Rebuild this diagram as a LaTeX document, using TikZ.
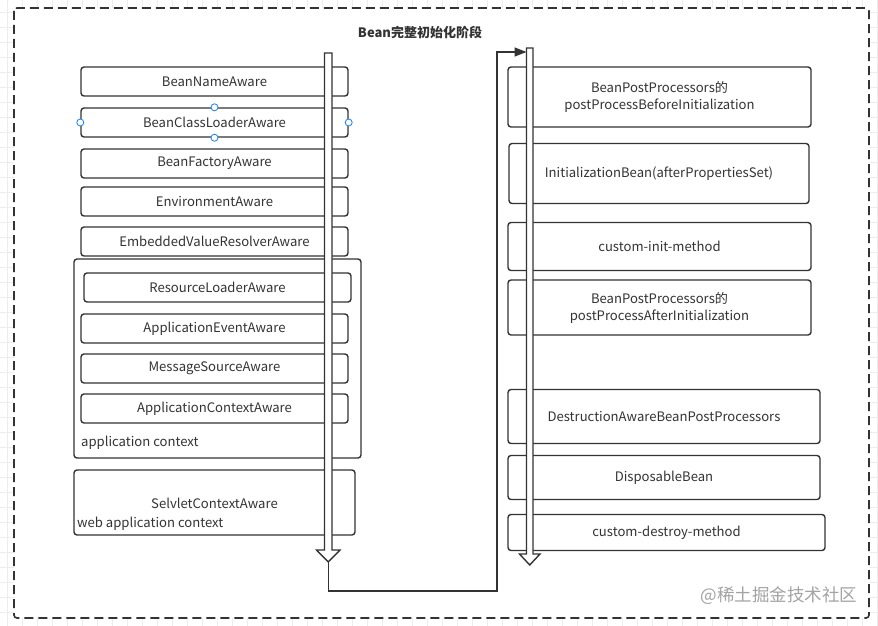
\documentclass[tikz,border=0pt]{standalone}
\usepackage{fontspec}
\setmainfont{Noto Sans CJK SC}
\usetikzlibrary{arrows.meta,positioning,calc}
\definecolor{ink}{HTML}{333333}
\definecolor{selblue}{HTML}{2F8BEF}
\definecolor{wmark}{HTML}{A3A3A3}
\newcommand{\lbl}{\fontsize{13.1}{17}\selectfont}

\begin{document}
\begin{tikzpicture}[x=1pt, y=-1pt, >=Stealth,
  box/.style={draw=ink, line width=1.4pt, rounded corners=3pt, text=ink, font=\lbl, inner sep=0pt, align=center},
  leftbox/.style={box, minimum width=267pt, minimum height=29pt},
  plain/.style={text=ink, font=\lbl, inner sep=0pt},
  hollow/.style={draw=ink, line width=1.4pt, fill=white, line join=miter},
  flow/.style={draw=ink, line width=1.4pt},
  handle/.style={circle, draw=selblue, fill=white, line width=0.9pt, minimum size=7pt, inner sep=0pt},
  gridline/.style={draw=black!7, line width=0.5pt}]

  \useasboundingbox (0,0) rectangle (878,626);

  % Background grid and outer frame
  \foreach \gx in {7,22,...,877} \draw[gridline] (\gx,0) -- (\gx,626);
  \foreach \gy in {12,27,...,626} \draw[gridline] (0,\gy) -- (878,\gy);
  \draw[draw=ink, fill=white, line width=1.6pt, rounded corners=3pt, dash pattern=on 9pt off 5pt] (14,8) rectangle (869,618);

  \node[font=\fontsize{13}{16}\selectfont\bfseries, text=ink] (title) at (420,32.5) {Bean完整初始化阶段};

  % Define the aware boxes on the left
  \node[leftbox] (bnaware) at (214.5,81.5) {BeanNameAware};
  \node[leftbox] (bclaware) at (214.5,122.5) {BeanClassLoaderAware};
  \node[leftbox] (bfaware) at (214.5,163.5) {BeanFactoryAware};
  \node[leftbox] (envaware) at (214.5,201.5) {EnvironmentAware};
  \node[leftbox] (evraware) at (214.5,241.5) {EmbeddedValueResolverAware};
  \node[box, minimum width=287pt, minimum height=199pt] (appctx) at (217.5,358.5) {};
  \node[leftbox] (rlaware) at (217.5,287.5) {ResourceLoaderAware};
  \node[leftbox] (aeaware) at (214.5,328.5) {ApplicationEventAware};
  \node[leftbox] (msaware) at (214.5,368.5) {MessageSourceAware};
  \node[leftbox] (acaware) at (214.5,408.5) {ApplicationContextAware};
  \node[plain, anchor=west] (appctxlbl) at (81,443) {application context};
  \node[box, minimum width=281pt, minimum height=65pt] (webctx) at (214.5,502.5) {};
  \node[plain] (scaware) at (214.5,503.5) {SelvletContextAware};
  \node[plain, anchor=west] (webctxlbl) at (77,524) {web application context};

  % Selection handles
  \node[handle] (h1) at (bclaware.north) {};
  \node[handle] (h2) at (bclaware.south) {};
  \node[handle] (h3) at (bclaware.west) {};
  \node[handle] (h4) at (bclaware.east) {};

  % Define the lifecycle boxes on the right
  \node[box, minimum width=303pt, minimum height=60pt] (bppbefore) at (659.5,97) {BeanPostProcessors的\\postProcessBeforeInitialization};
  \node[box, minimum width=300pt, minimum height=60pt] (initbean) at (659,173.5) {InitializationBean(afterPropertiesSet)};
  \node[box, minimum width=303pt, minimum height=48pt] (initmethod) at (659.5,246.5) {custom-init-method};
  \node[box, minimum width=303pt, minimum height=55pt] (bppafter) at (659.5,307.5) {BeanPostProcessors的\\postProcessAfterInitialization};
  \node[box, minimum width=312pt, minimum height=54pt] (destbpp) at (664,416.5) {DestructionAwareBeanPostProcessors};
  \node[box, minimum width=312pt, minimum height=44pt] (dispbean) at (664,477.5) {DisposableBean};
  \node[box, minimum width=317pt, minimum height=36pt] (destroymethod) at (666.5,532.5) {custom-destroy-method};

  % Hollow flow arrows
  \draw[hollow] (324.5,53) -- (332,53) -- (332,550) -- (340,550) -- (328.25,562) -- (316.5,550) -- (324.5,550) -- cycle;
  \draw[hollow] (526.5,48) -- (533,48) -- (533,554) -- (540,554) -- (529.75,565) -- (519.5,554) -- (526.5,554) -- cycle;

  \coordinate (ltip) at (328.25,562);
  \coordinate (loopcorner) at (497,591);
  \coordinate (rin) at (526.5,52);
  \draw[flow, -{Triangle[length=12pt,width=9pt]}] (ltip) |- (loopcorner) |- (rin);

  \node[text=wmark, font=\fontsize{17.5}{19}\selectfont] (mark) at (779,596) {@稀土掘金技术社区};
\end{tikzpicture}
\end{document}
